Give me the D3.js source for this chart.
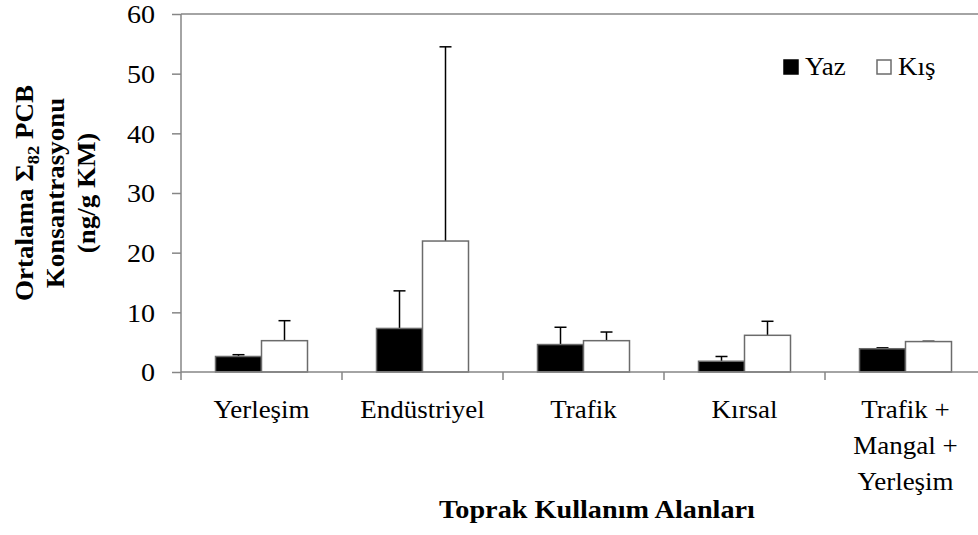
<!DOCTYPE html>
<html>
<head>
<meta charset="utf-8">
<script src="https://cdn.jsdelivr.net/npm/d3@7"></script>
<style>
  body { margin: 0; background: #fff; }
  text { font-family: "Liberation Serif", "Times New Roman", serif; fill: #000; }
</style>
</head>
<body>
<div id="chart"></div>
<script>
// land-use categories (multi-line labels)
var categories = ["Yerleşim", "Endüstriyel", "Trafik", "Kırsal", "Trafik + Mangal + Yerleşim"];
var categoryLines = [["Yerleşim"], ["Endüstriyel"], ["Trafik"], ["Kırsal"], ["Trafik +", "Mangal +", "Yerleşim"]];
var series = ["Yaz", "Kış"];

// mean concentrations and error (upper) values
var yazValues = [2.6, 7.3, 4.6, 1.8, 3.9];
var yazErrors = [0.3, 6.3, 2.9, 0.8, 0.15];
var kisValues = [5.25, 21.95, 5.25, 6.15, 5.1];
var kisErrors = [3.35, 32.55, 1.45, 2.35, 0.05];

var yTicks = [0, 10, 20, 30, 40, 50, 60];

var width = 978, height = 535;
var margin = {top: 14, right: -8, bottom: 163, left: 181};
var stretch = 1.08;   // text in the original is slightly widened
var fs = "25px";

var svg = d3.select("#chart")
  .append("svg")
    .attr("width", width)
    .attr("height", height);

var x0 = d3.scaleBand()
  .domain(categories)
  .range([margin.left, width - margin.right])
  .paddingInner(0);

var x1 = d3.scaleBand()
  .domain(series)
  .range([0, x0.bandwidth()])
  .paddingInner(0)
  .paddingOuter(0.75);

var y = d3.scaleLinear()
  .domain([0, 60])
  .range([height - margin.bottom, margin.top]);

var axisColor = "#868686";

// top frame line
svg.append("line")
  .attr("x1", margin.left).attr("x2", width)
  .attr("y1", y(60)).attr("y2", y(60))
  .attr("stroke", axisColor).attr("stroke-width", 1.5);

// y axis
var yAxis = svg.append("g")
  .attr("transform", "translate(" + margin.left + ",0)")
  .call(d3.axisLeft(y).tickValues(yTicks).tickSize(9).tickPadding(0).tickFormat(d3.format("d")));
yAxis.selectAll("path, line").attr("stroke", axisColor).attr("stroke-width", 1.5);
yAxis.select(".domain").attr("d", "M0," + y(60) + "V" + y(0));
yAxis.selectAll("text")
  .attr("font-size", null)
  .style("font-size", "26px")
  .attr("x", null)
  .attr("dy", "0.34em")
  .attr("text-anchor", "end")
  .attr("transform", "translate(-26,0) scale(" + stretch + ",1)");

// bars
var rows = categories.map(function(c, i) {
  return [
    {cat: c, key: "Yaz", value: yazValues[i], err: yazErrors[i]},
    {cat: c, key: "Kış", value: kisValues[i], err: kisErrors[i]}
  ];
});

var groups = svg.append("g").selectAll("g")
  .data(rows)
  .enter().append("g")
    .attr("transform", function(d) { return "translate(" + x0(d[0].cat) + ",0)"; });

// error bars first (upper only), bars drawn over them
groups.selectAll("line.err")
  .data(function(d) { return d; })
  .enter().append("line")
    .attr("class", "err")
    .attr("x1", function(d) { return x1(d.key) + x1.bandwidth() / 2; })
    .attr("x2", function(d) { return x1(d.key) + x1.bandwidth() / 2; })
    .attr("y1", function(d) { return y(d.value); })
    .attr("y2", function(d) { return y(d.value + d.err); })
    .attr("stroke", "#000").attr("stroke-width", 1.5);

groups.selectAll("line.cap")
  .data(function(d) { return d; })
  .enter().append("line")
    .attr("class", "cap")
    .attr("x1", function(d) { return x1(d.key) + x1.bandwidth() / 2 - 6; })
    .attr("x2", function(d) { return x1(d.key) + x1.bandwidth() / 2 + 6; })
    .attr("y1", function(d) { return y(d.value + d.err); })
    .attr("y2", function(d) { return y(d.value + d.err); })
    .attr("stroke", "#000").attr("stroke-width", 1.5);

groups.selectAll("rect")
  .data(function(d) { return d; })
  .enter().append("rect")
    .attr("x", function(d) { return x1(d.key); })
    .attr("y", function(d) { return y(d.value); })
    .attr("width", x1.bandwidth())
    .attr("height", function(d) { return y(0) - y(d.value); })
    .attr("fill", function(d) { return d.key == "Yaz" ? "#000" : "#fff"; })
    .attr("stroke", "#6b6b6b")
    .attr("stroke-width", 1.5);

// x axis
var xAxis = svg.append("g")
  .attr("transform", "translate(0," + y(0) + ")")
  .call(d3.axisBottom(x0).tickSize(0).tickFormat(""));
xAxis.select(".domain").attr("d", "M" + margin.left + ",0H" + width)
  .attr("stroke", axisColor).attr("stroke-width", 1.5);

// boundary ticks between categories
var boundaries = categories.map(function(c) { return x0(c); }).concat([x0.range()[1]]);
xAxis.selectAll("line.bound")
  .data(boundaries)
  .enter().append("line")
    .attr("class", "bound")
    .attr("x1", function(d) { return d; }).attr("x2", function(d) { return d; })
    .attr("y1", 0).attr("y2", 8)
    .attr("stroke", axisColor).attr("stroke-width", 1.5);

// category labels
var labels = svg.append("g").selectAll("g")
  .data(categories)
  .enter().append("g");
labels.each(function(c, i) {
  var cx = x0(c) + x0.bandwidth() / 2;
  d3.select(this).selectAll("text")
    .data(categoryLines[i])
    .enter().append("text")
      .attr("text-anchor", "middle")
      .style("font-size", fs)
      .attr("transform", function(d, j) {
        return "translate(" + cx + "," + (418 + j * 36) + ") scale(" + stretch + ",1)";
      })
      .text(function(d) { return d; });
});

// x axis title
svg.append("text")
  .attr("text-anchor", "middle")
  .style("font-size", fs)
  .style("font-weight", "bold")
  .attr("transform", "translate(597,518) scale(1.13,1)")
  .text("Toprak Kullanım Alanları");

// y axis title (three lines, rotated)
var yTitle = svg.append("g")
  .attr("transform", "translate(0,193) rotate(-90)");
var t1 = yTitle.append("text")
  .attr("text-anchor", "middle")
  .style("font-size", fs)
  .style("font-weight", "bold")
  .attr("transform", "translate(0,33) scale(" + stretch + ",1)");
t1.append("tspan").text("Ortalama Σ");
t1.append("tspan").attr("dy", 6).style("font-size", "17px").text("82");
t1.append("tspan").attr("dy", -6).text(" PCB");
yTitle.append("text")
  .attr("text-anchor", "middle")
  .style("font-size", fs)
  .style("font-weight", "bold")
  .attr("transform", "translate(0,64) scale(" + stretch + ",1)")
  .text("Konsantrasyonu");
yTitle.append("text")
  .attr("text-anchor", "middle")
  .style("font-size", fs)
  .style("font-weight", "bold")
  .attr("transform", "translate(0,95) scale(" + stretch + ",1)")
  .text("(ng/g KM)");

// legend
var legend = svg.append("g").selectAll("g")
  .data(series)
  .enter().append("g")
    .attr("transform", function(d, i) { return "translate(" + (784 + i * 93) + ",60)"; });
legend.append("rect")
  .attr("width", 14).attr("height", 14)
  .attr("fill", function(d) { return d == "Yaz" ? "#000" : "#fff"; })
  .attr("stroke", function(d) { return d == "Yaz" ? "#000" : "#6b6b6b"; })
  .attr("stroke-width", 1.5);
legend.append("text")
  .style("font-size", fs)
  .attr("transform", "translate(21,15) scale(" + stretch + ",1)")
  .text(function(d) { return d; });
</script>
</body>
</html>
